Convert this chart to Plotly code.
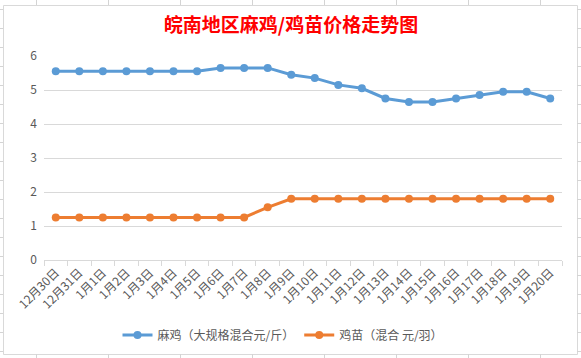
import plotly.graph_objects as go

categories = ["12月30日", "12月31日", "1月1日", "1月2日", "1月3日", "1月4日", "1月5日",
              "1月6日", "1月7日", "1月8日", "1月9日", "1月10日", "1月11日", "1月12日",
              "1月13日", "1月14日", "1月15日", "1月16日", "1月17日", "1月18日",
              "1月19日", "1月20日"]
maji = [5.55, 5.55, 5.55, 5.55, 5.55, 5.55, 5.55, 5.65, 5.65, 5.65, 5.45, 5.35,
        5.15, 5.05, 4.75, 4.65, 4.65, 4.75, 4.85, 4.95, 4.95, 4.75]
jimiao = [1.25, 1.25, 1.25, 1.25, 1.25, 1.25, 1.25, 1.25, 1.25, 1.55, 1.8, 1.8,
          1.8, 1.8, 1.8, 1.8, 1.8, 1.8, 1.8, 1.8, 1.8, 1.8]
series_names = ["麻鸡（大规格混合元/斤）", "鸡苗（混合 元/羽）"]
title_text = "皖南地区麻鸡/鸡苗价格走势图"

W, H = 581, 358
L, R, T, B = 44, 562, 56, 260

def px_x(p):
    return (p - L) / (R - L)

def px_y(p):
    return (B - p) / (B - T)

FONT = "Noto Sans CJK SC"
TXT = "#595959"
GRID = "#d9d9d9"

fig = go.Figure()
fig.add_trace(go.Scatter(x=categories, y=maji, name=series_names[0], mode="lines+markers",
                         line=dict(color="#5B9BD5", width=3),
                         marker=dict(color="#5B9BD5", size=8)))
fig.add_trace(go.Scatter(x=categories, y=jimiao, name=series_names[1], mode="lines+markers",
                         line=dict(color="#ED7D31", width=3),
                         marker=dict(color="#ED7D31", size=8)))

shapes = []
# chart border
shapes.append(dict(type="rect", xref="paper", yref="paper",
                   x0=px_x(3.5), x1=px_x(577.5), y0=px_y(354.5), y1=px_y(5.5),
                   line=dict(color=GRID, width=1), fillcolor="rgba(0,0,0,0)", layer="below"))
# spreadsheet cell lines visible outside the chart
for cx in [36, 108, 180, 252, 324, 396, 468, 540]:
    for (a, b) in [(0, 5), (354, 358)]:
        shapes.append(dict(type="line", xref="paper", yref="paper",
                           x0=px_x(cx + 0.5), x1=px_x(cx + 0.5), y0=px_y(a), y1=px_y(b),
                           line=dict(color="#d4d4d4", width=1)))
ry = 9.5
while ry < 358:
    for (a, b) in [(0, 3), (577, 581)]:
        shapes.append(dict(type="line", xref="paper", yref="paper",
                           x0=px_x(a), x1=px_x(b), y0=px_y(ry), y1=px_y(ry),
                           line=dict(color="#d4d4d4", width=1)))
    ry += 19

fig.update_layout(
    width=W, height=H,
    margin=dict(l=L, r=W - R, t=T, b=H - B, autoexpand=False),
    paper_bgcolor="white", plot_bgcolor="white",
    title=dict(text=f"<b>{title_text}</b>", x=291 / W, xanchor="center",
               y=1 - 25.5 / H, yanchor="middle", yref="container",
               font=dict(family=FONT, size=19, color="#FF0000")),
    xaxis=dict(type="category", range=[-0.5, 21.5], showgrid=False,
               showline=True, linecolor=GRID, linewidth=1,
               ticks="outside", tickson="boundaries", ticklen=5, tickcolor=GRID,
               tickangle=-45, tickfont=dict(family=FONT, size=12, color=TXT)),
    yaxis=dict(range=[0, 6], dtick=1, showgrid=True, gridcolor=GRID, gridwidth=1,
               zeroline=False, showline=False, ticks="", ticklabelstandoff=6,
               tickfont=dict(family=FONT, size=12, color=TXT)),
    legend=dict(orientation="h", x=px_x(283), xanchor="center", y=px_y(335), yanchor="middle",
                font=dict(family=FONT, size=12, color=TXT), itemwidth=30),
    shapes=shapes,
)

fig.write_html("out.html", config={"displayModeBar": False},
               post_script="document.body.style.margin='0';")
